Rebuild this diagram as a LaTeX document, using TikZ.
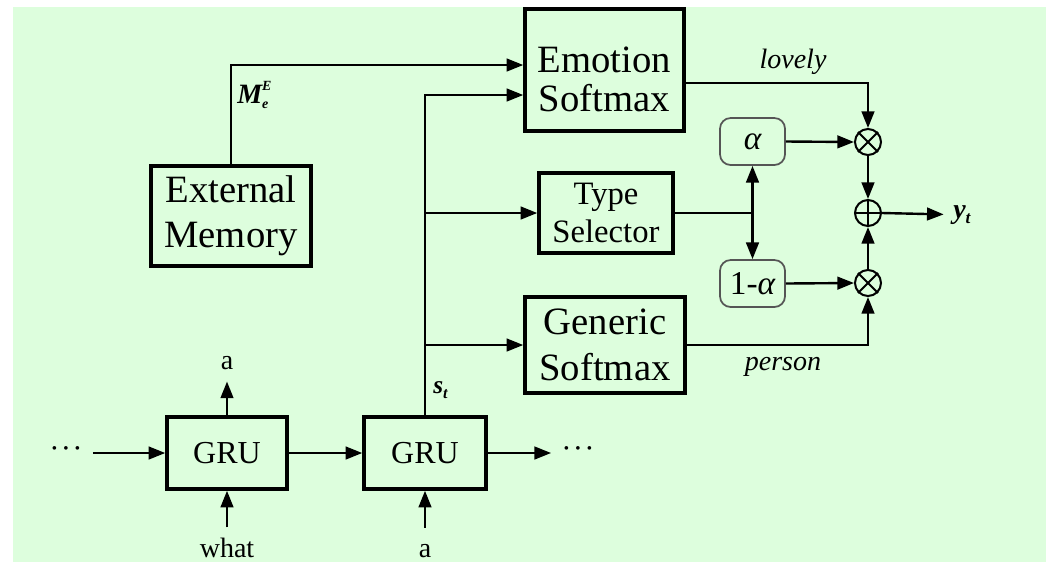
\documentclass[tikz,border=0pt]{standalone}
\usepackage{fontspec}
\setmainfont{Liberation Serif}
\usetikzlibrary{arrows.meta,calc}
\definecolor{panel}{RGB}{221,254,221}
\definecolor{softedge}{RGB}{85,85,85}

\begin{document}
\begin{tikzpicture}[x=0.75pt,y=-0.75pt,
  blk/.style={draw=black, line width=2.6pt, align=center, inner sep=0pt},
  bigtxt/.style={font=\fontsize{29}{34}\selectfont},
  coef/.style={draw=softedge, line width=1.3pt, rounded corners=8pt,
    minimum width=48.75pt, minimum height=35.25pt, inner sep=0pt,
    font=\fontsize{25}{25}\selectfont\itshape},
  op/.style={circle, draw=black, line width=1.5pt, minimum size=19.5pt, inner sep=0pt},
  arr/.style={line width=1.8pt, -{Triangle[length=12.5pt,width=9.5pt]}},
  thinwire/.style={line width=1.3pt},
  lbl/.style={inner sep=0pt, font=\fontsize{21}{21}\selectfont},
  ilbl/.style={inner sep=0pt, font=\fontsize{21}{21}\selectfont\itshape},
  dots/.style={inner ysep=0pt, font=\fontsize{23}{23}\selectfont},
]

% panel
\useasboundingbox (0,0) rectangle (1046,562);
\fill[panel] (13,7) rectangle (1046,562);

% blocks (the strut on the first line pushes the two-line label lower in its box)
\node[blk, font=\fontsize{29}{29}\selectfont, minimum width=119.25pt, minimum height=91.5pt] (es) at (604.5,70) {\rule{0pt}{33pt}Emotion\\Softmax};
\node[blk, bigtxt, minimum width=120pt, minimum height=75pt] (em) at (231,216) {External\\Memory};
\node[blk, font=\fontsize{24.5}{28}\selectfont, minimum width=100.5pt, minimum height=60pt] (ts) at (606,213) {Type\\Selector};
\node[blk, bigtxt, minimum width=120pt, minimum height=72pt] (gs) at (605,345) {Generic\\Softmax};
\node[blk, font=\fontsize{24}{24}\selectfont, minimum width=90pt, minimum height=54pt] (g1) at (227,453) {GRU};
\node[blk, font=\fontsize{24}{24}\selectfont, minimum width=91.5pt, minimum height=54pt] (g2) at (425,453) {GRU};

% gating coefficients
\node[coef] (al) at (752.5,141.5) {α};
\node[coef] (om) at (752.5,283.5) {{\upshape 1-}α};

% combination operators
\node[op] (x1) at (868,142) {};
\node[op] (pl) at (868,213) {};
\node[op] (x2) at (868,283) {};
\draw[line width=1.5pt] (x1.north west) -- (x1.south east) (x1.north east) -- (x1.south west);
\draw[line width=1.5pt] (x2.north west) -- (x2.south east) (x2.north east) -- (x2.south west);
\draw[line width=1.5pt] (pl.north) -- (pl.south) (pl.west) -- (pl.east);

% text labels
\node[lbl, anchor=base] (a1) at (227,369) {a};
\node[lbl, anchor=base] (w1) at (227,557) {what};
\node[lbl, anchor=base] (a2) at (425,557) {a};
\node[ilbl, anchor=base] (lv) at (793,68) {lovely};
\node[ilbl, anchor=base] (ps) at (783,370) {person};
\node[inner sep=0pt, anchor=base west, font=\fontsize{21}{21}\selectfont\bfseries\itshape] (me) at (237,103)
  {M\rlap{\raisebox{0.46em}{\fontsize{10.5}{10.5}\selectfont E}}\raisebox{-0.18em}{\fontsize{10.5}{10.5}\selectfont e}};
\node[inner sep=0pt, anchor=base west, font=\fontsize{19}{19}\selectfont\bfseries\itshape] (st) at (433,393)
  {s\raisebox{-0.2em}{\fontsize{12}{12}\selectfont t}};
\node[inner sep=0pt, anchor=base west, font=\fontsize{21}{21}\selectfont\bfseries\itshape] (yt) at (953,218)
  {y\raisebox{-0.2em}{\fontsize{13}{13}\selectfont t}};
\node[dots, inner xsep=7.5pt] (dl) at (66,453) {·\kern1pt·\kern1pt·};
\node[dots, inner xsep=7.5pt] (dr) at (578,453) {·\kern1pt·\kern1pt·};

% recurrent chain
\draw[arr] (dl.east) -- (g1.west);
\draw[arr] (g1.east) -- (g2.west);
\draw[arr] (g2.east) -- (dr.west);
\draw[arr] (g1.north) -- ($(a1.south)+(0,12)$);
\draw[arr] ($(w1.north)+(0,-10)$) -- (g1.south);
\draw[arr] ($(a2.north)+(0,-16)$) -- (g2.south);

% memory and decoder state feeding the softmax layers
\coordinate (esA) at ($(es.west)+(0,-5)$);
\coordinate (esB) at ($(es.west)+(0,25)$);
\draw[arr] (em.north) |- (esA);
\draw[arr] (g2.north) |- (esB);
\draw[arr] (g2.north |- ts.west) -- (ts.west);
\draw[arr] (g2.north |- gs.west) -- (gs.west);

% type selector fork
\coordinate (fork) at (ts.east -| al.south);
\draw[thinwire] (ts.east) -- (fork);
\draw[arr] (fork) -- (al.south);
\draw[arr] (fork) -- (om.north);

% weighted mixture
\coordinate (esOut) at ($(es.east)+(0,13)$);
\draw[arr] (esOut) -| (x1.north);
\draw[arr] (gs.east) -| (x2.south);
\draw[arr] (al.east) -- (x1.west);
\draw[arr] (om.east) -- (x2.west);
\draw[arr] (x1.south) -- (pl.north);
\draw[arr] (x2.north) -- (pl.south);
\draw[arr, shorten >=7pt] (pl.east) -- (yt.west);

\end{tikzpicture}
\end{document}
